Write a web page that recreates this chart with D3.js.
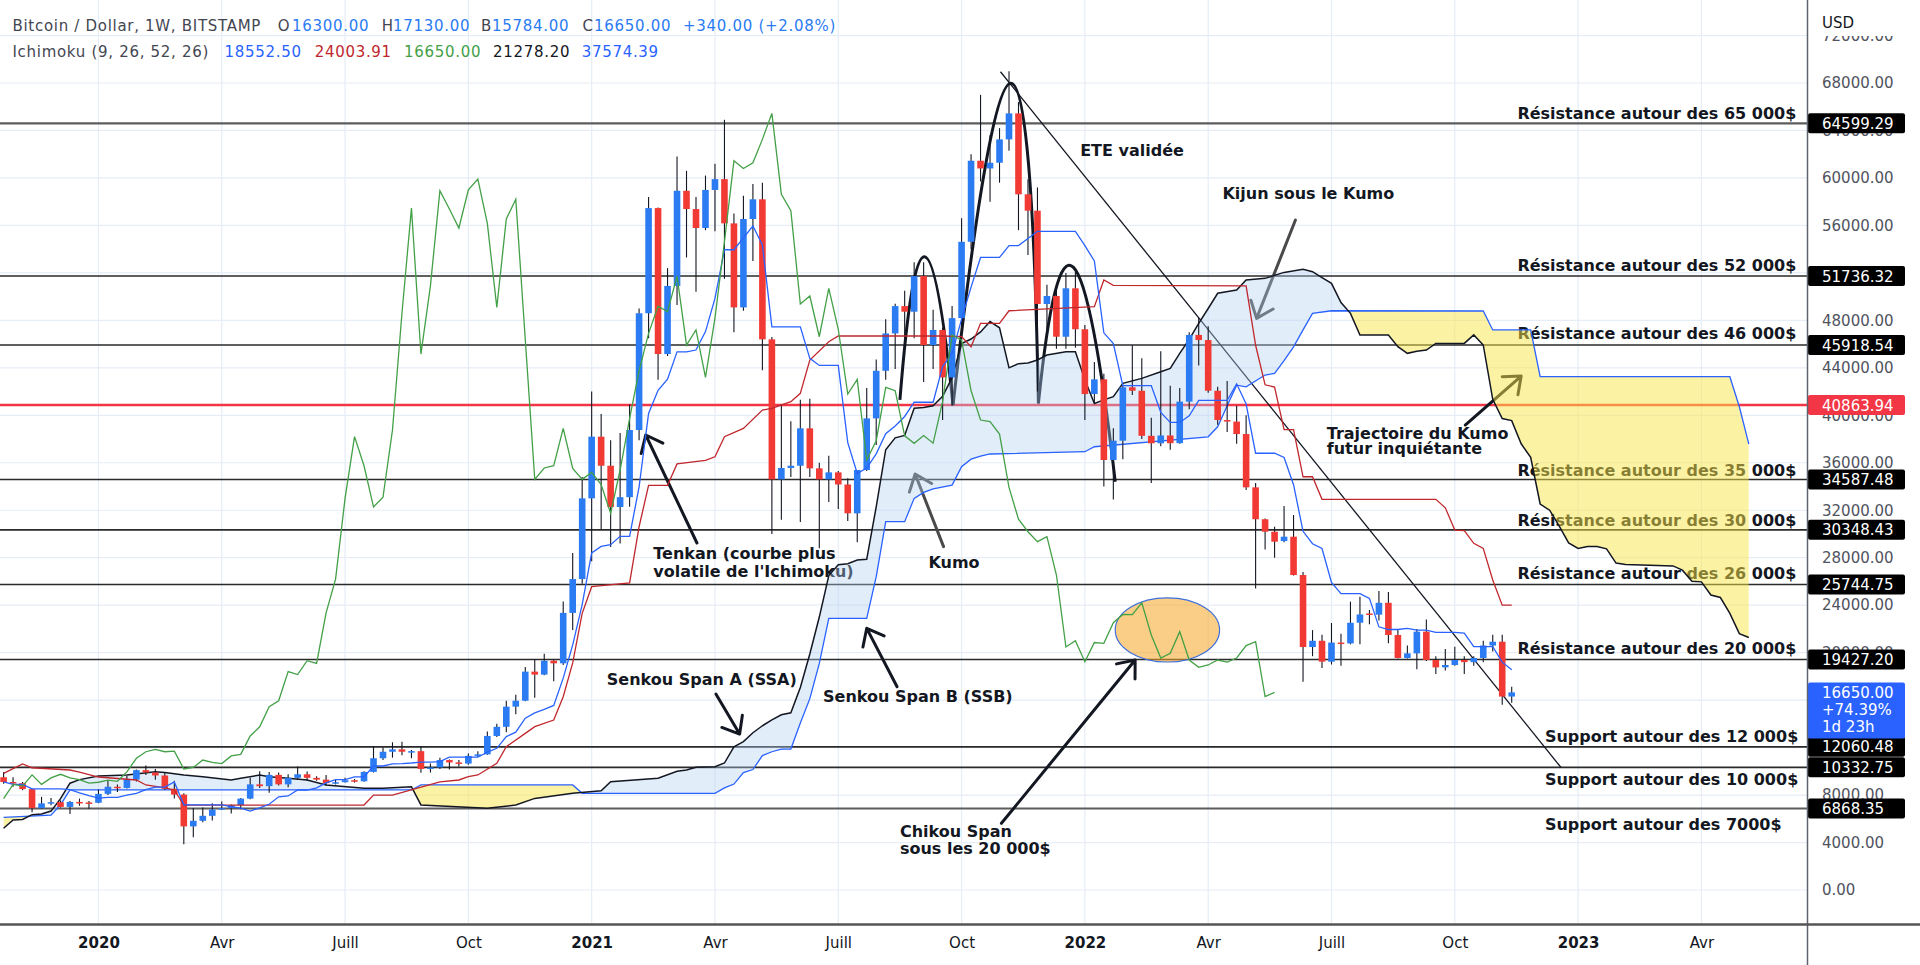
<!DOCTYPE html>
<html>
<head>
<meta charset="utf-8">
<script src="https://cdn.jsdelivr.net/npm/d3@7"></script>
<style>
  body { margin: 0; background: #fff; }
  svg { display: block; }
</style>
</head>
<body>
<svg id="chart" width="1920" height="965"></svg>
<script>
// ---- Data (weekly BTC/USD, Bitstamp, first bar = week of 2019-10-28) ----
const firstWeek = Date.UTC(2019, 9, 28);

const opens = [9500,9100,9000,8500,6900,7300,7400,7000,7420,7380,
  7350,8100,8700,8600,9300,10100,9900,9650,8530,8040,
  5360,5830,6250,6780,6900,7150,7700,8900,8750,9700,
  8900,9450,9750,9450,9300,9000,9080,9250,9160,9950,
  11100,11650,11850,11650,11700,10200,10330,10950,10750,10650,
  11300,11430,12980,13750,15450,15950,18400,18150,19320,19100,
  23350,26200,33000,38200,35750,32270,33100,38760,48600,57460,
  45160,50900,58920,57380,55780,58990,59900,56170,49090,56540,
  58200,46400,34600,35560,35750,38900,35530,34600,35190,34170,
  31740,35390,39740,43750,46900,49200,48730,51730,45920,47190,
  43190,48190,54620,61450,60800,61280,63250,65440,58620,57240,
  49380,50050,46620,50700,47250,41790,43030,36230,37860,42360,
  42070,38270,37640,38300,37650,41150,46770,46340,42070,39600,
  39470,38420,33930,31240,30190,29400,29770,26540,20475,21000,
  19240,20850,20780,22520,23300,23200,24200,21490,19550,19940,
  21770,19380,18760,18960,19380,19200,19550,20600,20920,16300];

const highs = [9950,9500,9100,8550,7850,7750,7550,7500,7700,7500,
  8470,9190,8900,9600,10150,10500,10200,9950,9200,8150,
  6900,6950,7300,7450,7200,7750,9450,10000,9950,9900,
  9750,10400,9980,9580,9700,9300,9450,9350,10000,12100,
  12000,12450,12500,11800,12100,10650,11150,10990,10950,11500,
  11700,13350,14000,15950,16450,18800,19450,19900,19400,24300,
  28400,34800,42000,40100,37900,38500,40900,49000,58400,57500,
  52400,61800,60600,58400,60200,61200,64900,57000,58500,59500,
  59600,46600,40900,39500,41300,41400,36000,36600,35300,34700,
  35400,42300,44700,48100,49400,50500,52900,52900,48900,47400,
  49200,56600,62000,67000,63600,64200,69000,66400,59900,59200,
  51000,50500,52000,52100,47600,44500,43500,38900,42600,45900,
  44800,39800,45400,42500,42300,47000,48200,47500,42400,42900,
  40800,40000,34300,31300,30600,32360,31600,26800,21900,21500,
  22500,21600,24300,24700,23600,25200,25100,21900,20600,22000,
  22800,19700,20300,20500,19700,19700,21000,21500,21500,17130];

const lows = [8950,8700,8400,6550,6850,7150,6950,6400,7100,6850,
  7300,8000,8250,8550,9150,9700,9300,8450,7700,3850,
  4450,5700,5850,6750,6450,6800,7650,8600,8200,8800,
  8650,9300,9200,9200,8800,8900,9050,9050,9130,9900,
  10950,11150,11350,11100,9880,9900,10200,10150,10400,10550,
  11200,11400,12900,13300,14800,15900,16200,18100,17600,18950,
  21900,25800,27700,30400,28900,29200,32300,37900,46500,43000,
  45000,49300,53300,50400,55600,55500,51500,47000,48800,53000,
  43800,30000,31200,34800,31000,34800,28800,32700,32100,31100,
  29300,35300,37500,43000,43900,46400,46500,42800,43900,39600,
  40800,46900,54000,59700,58000,59600,62300,55600,53500,42000,
  46900,45600,45600,45700,39600,41100,34000,32900,36300,41700,
  38000,34300,37400,37100,37600,40500,44200,41900,39200,38600,
  37600,33700,25400,28700,28000,29300,26500,17550,19700,18700,
  19000,18900,20700,20700,22400,22700,20800,19500,19500,18600,
  19300,18200,18500,18900,18200,18900,19200,20100,15600,15784];

const closes = [9100,9000,8500,6900,7300,7400,7000,7420,7380,7350,
  8100,8700,8600,9300,10100,9900,9650,8530,8040,5360,
  5830,6250,6780,6900,7150,7700,8900,8750,9700,8900,
  9450,9750,9450,9300,9000,9080,9250,9160,9950,11100,
  11650,11850,11650,11700,10200,10330,10950,10750,10650,11300,
  11430,12980,13750,15450,15950,18400,18150,19320,19100,23350,
  26200,33000,38200,35750,32270,33100,38760,48600,57460,45160,
  50900,58920,57380,55780,58990,59900,56170,49090,56540,58200,
  46400,34600,35560,35750,38900,35530,34600,35190,34170,31740,
  35390,39740,43750,46900,49200,48730,51730,45920,47190,43190,
  48190,54620,61450,60800,61280,63250,65440,58620,57240,49380,
  50050,46620,50700,47250,41790,43030,36230,37860,42360,42070,
  38270,37640,38300,37650,41150,46770,46340,42070,39600,39470,
  38420,33930,31240,30190,29350,29770,26540,20475,21000,19240,
  20850,20780,22520,23220,23200,24200,21490,19550,19940,21770,
  19380,18760,18960,19380,19200,19550,20600,20920,16300,16650];

// Ichimoku lines: [week index, value]
const tenkan = [[0,9120],[1,8900],[2,8900],[3,8525],[6,8525],[7,8450],[8,8175],[9,7950],[10,7750],[11,7800],[12,7800],[13,8000],[14,8150],[15,8450],[16,8675],[17,8675],[18,9100],[19,7175],[23,7175],[24,7025],[25,6900],[26,6650],[27,6925],[28,7225],[29,7850],[30,7925],[31,8425],[32,8425],[33,8600],[34,9025],[35,9300],[36,9300],[37,9525],[38,9525],[39,10450],[40,10450],[41,10625],[42,10650],[43,10700],[44,10775],[45,10775],[46,10815],[47,11190],[50,11190],[51,11615],[52,11940],[53,12925],[54,13300],[55,14475],[56,14925],[57,15225],[58,15550],[59,17850],[60,20650],[61,24050],[62,28400],[63,28950],[64,29100],[65,29800],[66,29800],[67,33975],[68,40150],[69,42100],[70,43050],[71,45350],[72,45350],[73,45500],[74,47050],[75,49850],[76,53950],[77,53950],[78,54950],[79,55950],[80,54350],[81,47450],[84,47450],[85,44800],[86,44200],[88,44200],[89,37700],[90,35100],[91,35550],[92,36750],[93,38450],[94,39100],[95,39900],[96,41100],[98,41100],[99,44100],[100,45200],[101,48100],[102,50800],[103,53300],[105,53300],[106,54300],[107,54300],[108,54900],[109,55500],[113,55500],[114,54300],[115,53000],[116,46950],[117,46050],[118,42500],[121,42500],[122,40250],[123,39400],[124,39400],[125,39950],[126,41250],[129,41250],[130,42650],[131,40950],[132,36800],[134,36800],[135,36450],[136,34150],[137,30225],[138,29175],[139,28775],[140,25925],[141,24975],[143,24975],[144,24575],[145,22175],[146,21950],[147,21950],[148,22050],[149,21900],[150,21900],[151,21700],[153,21700],[154,21650],[155,20500],[157,20500],[158,19200],[159,18552.5]];

const kijun = [[0,9830],[2,10620],[3,10300],[7,10110],[8,9940],[10,9520],[14,9270],[15,8850],[17,8600],[18,8430],[19,7160],[38,7160],[39,8000],[41,8000],[46,9120],[48,9270],[49,9550],[50,9690],[52,10680],[53,12070],[55,13200],[56,13760],[58,14320],[59,16290],[60,19130],[61,23310],[62,25560],[66,25880],[67,30610],[68,34100],[70,34100],[71,35900],[74,36200],[75,36500],[76,38200],[78,38900],[80,40440],[81,40590],[83,41150],[84,41850],[85,44660],[87,46200],[88,46680],[99,46680],[101,46630],[102,45780],[103,47750],[105,47750],[106,48810],[115,49150],[116,51400],[117,50950],[131,50900],[132,45900],[133,42570],[134,42380],[135,38800],[136,38800],[137,34820],[138,34820],[139,32920],[151,32920],[152,32200],[153,30330],[154,30280],[155,29210],[156,28790],[157,26120],[158,24003.91],[159,24003.91]];

const spanA = [[0,5200],[1,5900],[2,5950],[3,6350],[4,6400],[5,6650],[6,7700],[7,9000],[8,9300],[10,9600],[13,9690],[16,9970],[17,9900],[19,9700],[21,9550],[24,9270],[25,9410],[27,9690],[28,9550],[30,9410],[32,9270],[34,8850],[38,8570],[40,8570],[43,8700],[44,7170],[51,6880],[54,7160],[56,7720],[60,8150],[63,8360],[64,9120],[69,9410],[71,10000],[72,10110],[73,10340],[75,10390],[76,10700],[77,12070],[78,12500],[79,13250],[80,13840],[81,14340],[82,14770],[83,14935],[84,17070],[85,19890],[86,23000],[87,26500],[88,27400],[89,27490],[90,27800],[91,27860],[92,32290],[93,37100],[94,38100],[95,38300],[96,40600],[97,40660],[98,40800],[99,41600],[100,43175],[101,46050],[102,46425],[103,47025],[104,47900],[105,47375],[106,44000],[107,44350],[108,44400],[109,44660],[110,45080],[112,45360],[113,45360],[114,43000],[115,41000],[116,41300],[117,41570],[118,42690],[120,43110],[122,43670],[123,43950],[124,45220],[125,46400],[126,47750],[127,49000],[128,50280],[130,50560],[131,51400],[133,51540],[135,52040],[137,52300],[138,52100],[139,51600],[140,51120],[141,49500],[142,48590],[143,46760],[146,46760],[147,45780],[148,45220],[149,45400],[150,45500],[151,46060],[154,46060],[155,46775],[156,45925],[157,41350],[158,39725],[159,39550],[160,37600],[161,36450],[162,32525],[163,32000],[164,30675],[165,29250],[166,28775],[167,28950],[168,28950],[169,28750],[170,27550],[171,27435],[176,27310],[177,26950],[178,26015],[179,25965],[180,24855],[181,24645],[182,23310],[183,21600],[184,21278.2]];

const spanB = [[0,6120],[5,6300],[6,7175],[7,8430],[43,8430],[44,8850],[60,8850],[61,8150],[75,8150],[76,8600],[77,8925],[78,9900],[79,10150],[80,11325],[81,11650],[82,11875],[83,11875],[84,14075],[85,16125],[86,19090],[87,22890],[91,22890],[92,26400],[93,31040],[95,31040],[96,33000],[97,33500],[98,33800],[100,34120],[101,35670],[102,36300],[103,36550],[104,36740],[114,36930],[115,37350],[127,38190],[128,39030],[129,40800],[130,42540],[131,42400],[133,43390],[134,43530],[135,44600],[136,45770],[137,47200],[138,48590],[140,48810],[156,48790],[157,47190],[161,47190],[162,43250],[182,43250],[183,40720],[184,37574.39]];

const chikouShift = 25;

// horizontal levels drawn on the chart
const levels = [64599.29, 51736.32, 45918.54, 34587.48, 30348.43, 25744.75, 19427.20, 12060.48, 10332.75, 6868.35];
const redLevel = 40863.94;
const lastPrice = 16650;

const priceTicks = [0,4000,8000,12000,16000,20000,24000,28000,32000,36000,40000,44000,48000,52000,56000,60000,64000,68000,72000];
const timeTicks = ['2020-01-06','2020-04-06','2020-07-06','2020-10-05','2021-01-04','2021-04-05','2021-07-05','2021-10-04','2022-01-03','2022-04-04','2022-07-04','2022-10-03','2023-01-02','2023-04-03'];
const timeLabels = ['2020','Avr','Juill','Oct','2021','Avr','Juill','Oct','2022','Avr','Juill','Oct','2023','Avr'];

// annotations (anchored in data space: week index, price)
const levelNotes = [
  {t:'Résistance autour des 65 000$', lv:64599.29, i:159.6, dy:-4},
  {t:'Résistance autour des 52 000$', lv:51736.32, i:159.6, dy:-5},
  {t:'Résistance autour des 46 000$', lv:45918.54, i:159.6, dy:-6},
  {t:'Résistance autour des 35 000$', lv:34587.48, i:159.6, dy:-4},
  {t:'Résistance autour des 30 000$', lv:30348.43, i:159.6, dy:-4},
  {t:'Résistance autour des 26 000$', lv:25744.75, i:159.6, dy:-5},
  {t:'Résistance autour des 20 000$', lv:19427.20, i:159.6, dy:-5},
  {t:'Support autour des 12 000$', lv:12060.48, i:162.5, dy:-5},
  {t:'Support autour des 10 000$', lv:10332.75, i:162.5, dy:18},
  {t:'Support autour des 7000$', lv:6868.35, i:162.5, dy:22}
];
const notes = [
  {t:'ETE validée', i:113.5, p:61850},
  {t:'Kijun sous le Kumo', i:128.5, p:58220},
  {t:'Tenkan (courbe plus', i:68.5, p:27890},
  {t:"volatile de l'Ichimoku)", i:68.5, p:26370},
  {t:'Kumo', i:97.5, p:27130},
  {t:'Senkou Span B (SSB)', i:86.4, p:15840},
  {t:'Senkou Span A (SSA)', i:63.6, p:17270},
  {t:'Chikou Span', i:94.5, p:4470},
  {t:'sous les 20 000$', i:94.5, p:3030},
  {t:'Trajectoire du Kumo', i:139.5, p:38000},
  {t:'futur inquiétante', i:139.5, p:36740}
];
const arrows = [
  {from:[73.1,29240], to:[67.7,38340], c:'#131722'},
  {from:[99.1,28930], to:[96.1,35050], c:'#4a4a4a'},
  {from:[94.2,17130], to:[91.0,22050], c:'#131722'},
  {from:[75.1,16510], to:[77.6,13140], c:'#131722'},
  {from:[105.2,5620], to:[119.3,19380], c:'#131722'},
  {from:[136.2,56450], to:[132.1,48170], c:'#4a4a4a'},
  {from:[154.1,39180], to:[160.0,43310], c:'#131722'}
];
const arcs = [
  {a:[94.5,41290], top:[97.1,53360], b:[100.1,40860]},
  {a:[100.1,40860], top:[106.2,67970], b:[109.1,41000]},
  {a:[109.1,41000], top:[112.8,52460], b:[117.2,34400]}
];
const trend = [[105.1,68950],[164.2,10320]];
const ellipse = {i:122.7, p:21910, wWeeks:5.5, hPrice:2700};

// ---- Layout ----
const plotW = 1807, plotH = 924;
const FONT = "'DejaVu Sans', 'Liberation Sans', sans-serif";
const UP = '#2B7BF3', DOWN = '#F23A35';

const wk = i => new Date(firstWeek + i * 7 * 864e5);
const x = d3.scaleUtc().domain([wk(0), wk(166)]).range([3.6, 1578.1]);
const y = d3.scaleLinear().domain([0, 68000]).range([890, 83]);
const X = i => x(wk(i));

const svg = d3.select('#chart').attr('font-family', FONT);
svg.append('rect').attr('width', 1920).attr('height', 965).attr('fill', '#fff');

const defs = svg.append('defs');
defs.append('clipPath').attr('id', 'plotClip')
  .append('rect').attr('width', plotW).attr('height', plotH);

const plot = svg.append('g').attr('clip-path', 'url(#plotClip)');

// Grid
plot.append('g').selectAll('line').data(priceTicks).join('line')
  .attr('x1', 0).attr('x2', plotW)
  .attr('y1', d => y(d)).attr('y2', d => y(d))
  .attr('stroke', '#E6EDF6').attr('stroke-width', 1.2);
plot.append('g').selectAll('line').data(timeTicks).join('line')
  .attr('x1', d => x(new Date(d))).attr('x2', d => x(new Date(d)))
  .attr('y1', 0).attr('y2', plotH)
  .attr('stroke', '#E6EDF6').attr('stroke-width', 1.2);

// ---- Drawings (under the cloud) ----
const draw = plot.append('g');

draw.selectAll('line.lvl').data(levels).join('line')
  .attr('class', 'lvl')
  .attr('x1', 0).attr('x2', plotW)
  .attr('y1', d => y(d)).attr('y2', d => y(d))
  .attr('stroke', (d, k) => (k === 0 || k === levels.length - 1) ? '#5c5c5c' : '#2a2a2a')
  .attr('stroke-width', (d, k) => (k === 0 || k === levels.length - 1) ? 2.2 : 1.6);

draw.append('line')
  .attr('x1', 0).attr('x2', plotW)
  .attr('y1', y(redLevel)).attr('y2', y(redLevel))
  .attr('stroke', '#F23645').attr('stroke-width', 2.6);

draw.append('line')
  .attr('x1', X(trend[0][0])).attr('y1', y(trend[0][1]))
  .attr('x2', X(trend[1][0])).attr('y2', y(trend[1][1]))
  .attr('stroke', '#131722').attr('stroke-width', 1.3);

// head & shoulders arcs
draw.selectAll('path.arc').data(arcs).join('path')
  .attr('class', 'arc')
  .attr('d', d => {
    const x0 = X(d.a[0]), y0 = y(d.a[1]);
    const x1 = X(d.b[0]), y1 = y(d.b[1]);
    const xp = X(d.top[0]), yp = y(d.top[1]);
    const cx = 2 * xp - (x0 + x1) / 2, cy = 2 * yp - (y0 + y1) / 2;
    return `M${x0},${y0}Q${cx},${cy} ${x1},${y1}`;
  })
  .attr('fill', 'none').attr('stroke', '#131722').attr('stroke-width', 3);

// arrows
draw.selectAll('path.arrow').data(arrows).join('path')
  .attr('class', 'arrow')
  .attr('d', d => {
    const x1 = X(d.from[0]), y1 = y(d.from[1]);
    const x2 = X(d.to[0]), y2 = y(d.to[1]);
    const ang = Math.atan2(y1 - y2, x1 - x2), L = 19, s = 0.68;
    return `M${x1},${y1}L${x2},${y2}` +
      `M${x2 + L * Math.cos(ang + s)},${y2 + L * Math.sin(ang + s)}L${x2},${y2}` +
      `L${x2 + L * Math.cos(ang - s)},${y2 + L * Math.sin(ang - s)}`;
  })
  .attr('fill', 'none').attr('stroke', d => d.c).attr('stroke-width', 3)
  .attr('stroke-linejoin', 'round').attr('stroke-linecap', 'round');

// ellipse highlight
draw.append('ellipse')
  .attr('cx', X(ellipse.i)).attr('cy', y(ellipse.p))
  .attr('rx', X(ellipse.i + ellipse.wWeeks) - X(ellipse.i))
  .attr('ry', y(ellipse.p - ellipse.hPrice) - y(ellipse.p))
  .attr('fill', 'rgba(245,166,35,0.55)').attr('stroke', '#3F6FD8').attr('stroke-width', 1.2);

// texts
draw.selectAll('text.note').data(notes).join('text')
  .attr('class', 'note')
  .attr('x', d => X(d.i)).attr('y', d => y(d.p))
  .attr('font-size', 16).attr('font-weight', 'bold').attr('fill', '#131722')
  .text(d => d.t);
draw.selectAll('text.lvlnote').data(levelNotes).join('text')
  .attr('class', 'lvlnote')
  .attr('x', d => X(d.i)).attr('y', d => y(d.lv) + d.dy)
  .attr('font-size', 16).attr('font-weight', 'bold').attr('fill', '#131722')
  .text(d => d.t);

// ---- Ichimoku cloud ----
const ptsA = spanA.map(d => [X(d[0]), y(d[1])]);
const ptsB = spanB.map(d => [X(d[0]), y(d[1])]);
const raw = d3.line();
const cloudPath = raw(ptsA.concat(ptsB.slice().reverse())) + 'Z';
const xa0 = ptsA[0][0], xa1 = ptsA[ptsA.length - 1][0];
defs.append('clipPath').attr('id', 'belowA')
  .append('path').attr('d', raw(ptsA.concat([[xa1, 2000], [xa0, 2000]])) + 'Z');
defs.append('clipPath').attr('id', 'aboveA')
  .append('path').attr('d', raw(ptsA.concat([[xa1, -1000], [xa0, -1000]])) + 'Z');

const cloud = plot.append('g');
cloud.append('path').attr('d', cloudPath).attr('clip-path', 'url(#belowA)')
  .attr('fill', '#B4CFF2').attr('fill-opacity', 0.38);
cloud.append('path').attr('d', cloudPath).attr('clip-path', 'url(#aboveA)')
  .attr('fill', '#F9E547').attr('fill-opacity', 0.5);

const lineGen = d3.line().x(d => X(d[0])).y(d => y(d[1]));
plot.append('path').datum(spanB).attr('d', lineGen)
  .attr('fill', 'none').attr('stroke', '#2962FF').attr('stroke-width', 1.3);
plot.append('path').datum(spanA).attr('d', lineGen)
  .attr('fill', 'none').attr('stroke', '#131722').attr('stroke-width', 1.5);

// ---- Candles ----
const idx = d3.range(closes.length);
const candles = plot.append('g');
candles.selectAll('line').data(idx).join('line')
  .attr('x1', i => X(i)).attr('x2', i => X(i))
  .attr('y1', i => y(highs[i])).attr('y2', i => y(lows[i]))
  .attr('stroke', '#131722').attr('stroke-width', 1.1);
candles.selectAll('rect').data(idx).join('rect')
  .attr('x', i => X(i) - 3.3).attr('width', 6.6)
  .attr('y', i => y(Math.max(opens[i], closes[i])))
  .attr('height', i => Math.max(1.5, Math.abs(y(opens[i]) - y(closes[i]))))
  .attr('fill', i => closes[i] >= opens[i] ? UP : DOWN);

// ---- Tenkan / Kijun / Chikou ----
plot.append('path').datum(kijun).attr('d', lineGen)
  .attr('fill', 'none').attr('stroke', '#C0272D').attr('stroke-width', 1.3);
plot.append('path').datum(tenkan).attr('d', lineGen)
  .attr('fill', 'none').attr('stroke', '#2962FF').attr('stroke-width', 1.3);
const chikou = closes.map((c, k) => [k - chikouShift, c]).filter(d => d[0] >= 0);
plot.append('path').datum(chikou).attr('d', lineGen)
  .attr('fill', 'none').attr('stroke', '#43A047').attr('stroke-width', 1.3);

// ---- Axes ----
svg.append('rect').attr('x', plotW).attr('y', 0).attr('width', 1920 - plotW).attr('height', 965).attr('fill', '#fff');
svg.append('rect').attr('x', 0).attr('y', plotH).attr('width', 1920).attr('height', 965 - plotH).attr('fill', '#fff');

// price labels fully hidden behind a level box are not drawn
const boxValues = levels.concat([redLevel]);
const hidden = v => boxValues.some(b => Math.abs(y(b) - y(v)) < 4) || Math.abs(y(v) - (y(lastPrice) + 18)) < 26;
const yAxis = d3.axisRight(y).tickValues(priceTicks.filter(v => !hidden(v)))
  .tickFormat(d3.format('.2f')).tickSize(0).tickPadding(14);
svg.append('g').attr('transform', `translate(${plotW + 1},0)`)
  .call(yAxis)
  .call(g => g.select('.domain').remove())
  .attr('font-family', FONT).attr('font-size', 15).attr('color', '#50535E');

const xAxis = d3.axisBottom(x).tickValues(timeTicks.map(d => new Date(d)))
  .tickFormat((d, k) => timeLabels[k]).tickSize(0).tickPadding(13);
svg.append('g').attr('transform', `translate(0,${plotH})`)
  .call(xAxis)
  .call(g => g.select('.domain').remove())
  .attr('font-family', FONT).attr('font-size', 15).attr('color', '#131722')
  .call(g => g.selectAll('text').attr('font-weight', (d, k) => /^\d{4}$/.test(timeLabels[k]) ? 'bold' : 'normal'));

// header of the price scale
svg.append('rect').attr('x', plotW + 1).attr('y', 0).attr('width', 1920 - plotW).attr('height', 36).attr('fill', '#fff');
svg.append('text').attr('x', 1822).attr('y', 28).attr('font-size', 15).attr('fill', '#131722').text('USD');

// level boxes on the price scale
const boxes = svg.append('g');
const boxData = levels.map(v => ({v, c: '#000'})).concat([{v: redLevel, c: '#F23645'}]);
boxes.selectAll('rect').data(boxData).join('rect')
  .attr('x', plotW + 1).attr('width', 97).attr('y', d => y(d.v) - 10).attr('height', 20)
  .attr('rx', 2).attr('fill', d => d.c);
boxes.selectAll('text').data(boxData).join('text')
  .attr('x', 1822).attr('y', d => y(d.v) + 5.5)
  .attr('font-size', 15).attr('fill', '#fff').text(d => d.v.toFixed(2));

const lastBox = svg.append('g');
lastBox.append('rect').attr('x', plotW + 1).attr('width', 97)
  .attr('y', y(lastPrice) - 10).attr('height', 56).attr('rx', 2).attr('fill', '#2962FF');
['16650.00', '+74.39%', '1d 23h'].forEach((t, k) => {
  lastBox.append('text').attr('x', 1822).attr('y', y(lastPrice) + 5.5 + k * 17)
    .attr('font-size', 15).attr('fill', '#fff').text(t);
});

// separators
svg.append('line').attr('x1', plotW + 0.5).attr('x2', plotW + 0.5).attr('y1', 0).attr('y2', 965)
  .attr('stroke', '#5F6370').attr('stroke-width', 1.5);
svg.append('line').attr('x1', 0).attr('x2', 1920).attr('y1', plotH + 0.5).attr('y2', plotH + 0.5)
  .attr('stroke', '#555').attr('stroke-width', 2.5);

// ---- Legend ----
const GRAY = '#434651', BLUE = '#2B7BF3';
const legend1 = [
  {t:'Bitcoin / Dollar, 1W, BITSTAMP', x:12.5, c:GRAY},
  {t:'O', x:277.7, c:GRAY}, {t:'16300.00', x:292, c:BLUE},
  {t:'H', x:381.7, c:GRAY}, {t:'17130.00', x:393, c:BLUE},
  {t:'B', x:481, c:GRAY}, {t:'15784.00', x:492, c:BLUE},
  {t:'C', x:582.6, c:GRAY}, {t:'16650.00', x:594, c:BLUE},
  {t:'+340.00 (+2.08%)', x:683, c:BLUE}
];
const legend2 = [
  {t:'Ichimoku (9, 26, 52, 26)', x:12.5, c:GRAY},
  {t:'18552.50', x:224.5, c:'#2962FF'},
  {t:'24003.91', x:314.7, c:'#C0272D'},
  {t:'16650.00', x:404, c:'#43A047'},
  {t:'21278.20', x:493, c:'#131722'},
  {t:'37574.39', x:581.7, c:'#2962FF'}
];
[[legend1, 31], [legend2, 57]].forEach(([items, base]) => {
  svg.append('g').selectAll('text').data(items).join('text')
    .attr('x', d => d.x).attr('y', base)
    .attr('font-size', 15).attr('letter-spacing', 0.7)
    .attr('fill', d => d.c).text(d => d.t);
});
</script>
</body>
</html>
